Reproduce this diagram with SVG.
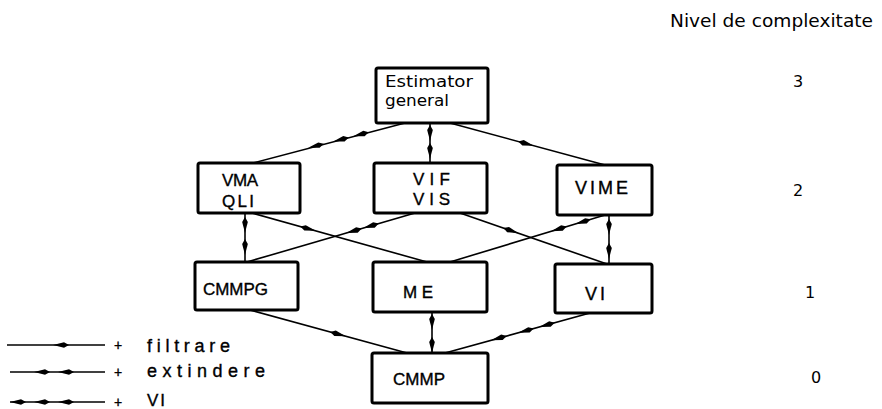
<svg xmlns="http://www.w3.org/2000/svg" xmlns:xlink="http://www.w3.org/1999/xlink" width="882" height="409" viewBox="0 0 882 409">
  <style>
    .box { fill: #fff; stroke: #000; stroke-width: 3; }
    .lbl { font-family: "Liberation Sans", "DejaVu Sans", sans-serif; fill: #000; stroke: #000; stroke-width: 0.35; }
    .hand { font-family: "DejaVu Sans", "Liberation Sans", sans-serif; fill: #000; }
    .wire { stroke: #000; stroke-width: 1.6; fill: none; }
  </style>
  <defs>
    <!-- spindle-shaped arrowhead, tip pointing along +x -->
    <path id="ah" d="M-9,0 L2,-2.8 L7,0 L2,2.8 Z" fill="#000"/>
  </defs>
  <rect width="882" height="409" fill="#fff"/>

  <!-- connectors -->
  <g id="connectors">
    <!-- Estimator general - VMA/QLI (+VI) -->
    <line class="wire" x1="405" y1="123" x2="253" y2="163"/>
    <use xlink:href="#ah" transform="translate(317,145.6) rotate(-14.4)"/>
    <use xlink:href="#ah" transform="translate(342,139.2) rotate(-14.4)"/>
    <use xlink:href="#ah" transform="translate(362,134) rotate(-14.4)"/>
    <!-- Estimator general - VIF/VIS (+extindere) -->
    <line class="wire" x1="430" y1="123" x2="430" y2="163"/>
    <use xlink:href="#ah" transform="translate(430,132) rotate(-90)"/>
    <use xlink:href="#ah" transform="translate(430,150) rotate(-90)"/>
    <!-- Estimator general - VIME (+filtrare) -->
    <line class="wire" x1="450" y1="123" x2="605" y2="165"/>
    <use xlink:href="#ah" transform="translate(525,143.3) rotate(195.2)"/>

    <!-- VMA/QLI - CMMPG -->
    <line class="wire" x1="245" y1="213" x2="245" y2="262"/>
    <use xlink:href="#ah" transform="translate(245,224) rotate(-90)"/>
    <use xlink:href="#ah" transform="translate(245,246) rotate(-90)"/>
    <!-- VMA/QLI - ME (+filtrare) -->
    <line class="wire" x1="252" y1="213" x2="427" y2="262"/>
    <use xlink:href="#ah" transform="translate(307,228.4) rotate(195.6)"/>
    <!-- CMMPG - VIF/VIS (+extindere) -->
    <line class="wire" x1="247" y1="262" x2="415" y2="213"/>
    <use xlink:href="#ah" transform="translate(355,230.5) rotate(-16.3)"/>
    <use xlink:href="#ah" transform="translate(372,225.5) rotate(-16.3)"/>
    <!-- VIF/VIS - VI (+filtrare) -->
    <line class="wire" x1="460" y1="213" x2="607" y2="264"/>
    <use xlink:href="#ah" transform="translate(510,230.3) rotate(199.1)"/>
    <!-- ME - VIME (+extindere) -->
    <line class="wire" x1="450" y1="262" x2="605" y2="215"/>
    <use xlink:href="#ah" transform="translate(560,228.6) rotate(-16.9)"/>
    <use xlink:href="#ah" transform="translate(584,221.4) rotate(-16.9)"/>
    <!-- VIME - VI -->
    <line class="wire" x1="609" y1="215" x2="609" y2="264"/>
    <use xlink:href="#ah" transform="translate(609,226) rotate(-90)"/>
    <use xlink:href="#ah" transform="translate(609,250) rotate(-90)"/>

    <!-- CMMPG - CMMP (+filtrare) -->
    <line class="wire" x1="250" y1="310" x2="407" y2="353"/>
    <use xlink:href="#ah" transform="translate(337,333.8) rotate(195.3)"/>
    <!-- ME - CMMP (+extindere) -->
    <line class="wire" x1="432" y1="312" x2="432" y2="353"/>
    <use xlink:href="#ah" transform="translate(432,321) rotate(-90)"/>
    <use xlink:href="#ah" transform="translate(432,344) rotate(-90)"/>
    <!-- VI - CMMP (+VI) -->
    <line class="wire" x1="445" y1="353" x2="590" y2="313"/>
    <use xlink:href="#ah" transform="translate(500,337.8) rotate(-15.4)"/>
    <use xlink:href="#ah" transform="translate(527,330.4) rotate(-15.4)"/>
    <use xlink:href="#ah" transform="translate(548,324.6) rotate(-15.4)"/>
  </g>

  <!-- level 3 -->
  <g id="estimator">
    <rect class="box" x="376" y="68" width="112" height="55" rx="2"/>
    <text class="hand" x="385" y="87" font-size="16" textLength="88" lengthAdjust="spacingAndGlyphs">Estimator</text>
    <text class="hand" x="385" y="106" font-size="16" textLength="64" lengthAdjust="spacingAndGlyphs">general</text>
  </g>

  <!-- level 2 -->
  <g id="vma-qli">
    <rect class="box" x="198" y="163" width="102" height="50" rx="2"/>
    <text class="lbl" x="222" y="186" font-size="17" textLength="36">VMA</text>
    <text class="lbl" x="222" y="207" font-size="17" textLength="32">QLI</text>
  </g>
  <g id="vif-vis">
    <rect class="box" x="374" y="163" width="113" height="50" rx="2"/>
    <text class="lbl" x="413" y="185" font-size="17" textLength="37">VIF</text>
    <text class="lbl" x="413" y="205" font-size="17" textLength="37">VIS</text>
  </g>
  <g id="vime">
    <rect class="box" x="557" y="165" width="95" height="50" rx="2"/>
    <text class="lbl" x="575" y="194" font-size="18" textLength="53">VIME</text>
  </g>

  <!-- level 1 -->
  <g id="cmmpg">
    <rect class="box" x="195" y="262" width="103" height="48" rx="2"/>
    <text class="lbl" x="203" y="295" font-size="17" textLength="65">CMMPG</text>
  </g>
  <g id="me">
    <rect class="box" x="373" y="262" width="114" height="50" rx="2"/>
    <text class="lbl" x="403" y="298" font-size="17" textLength="30">ME</text>
  </g>
  <g id="vi">
    <rect class="box" x="555" y="264" width="97" height="49" rx="2"/>
    <text class="lbl" x="585" y="300" font-size="18" textLength="20">VI</text>
  </g>

  <!-- level 0 -->
  <g id="cmmp">
    <rect class="box" x="372" y="353" width="116" height="50" rx="2"/>
    <text class="lbl" x="393" y="385" font-size="17" textLength="52">CMMP</text>
  </g>

  <!-- legend -->
  <g id="legend">
    <line class="wire" x1="7" y1="345" x2="105" y2="345"/>
    <use xlink:href="#ah" transform="translate(62,345)"/>
    <text class="lbl" x="114" y="350" font-size="14">+</text>
    <text class="lbl" x="147" y="352" font-size="18" textLength="83">filtrare</text>

    <line class="wire" x1="10" y1="372" x2="105" y2="372"/>
    <use xlink:href="#ah" transform="translate(43,372)"/>
    <use xlink:href="#ah" transform="translate(67,372)"/>
    <text class="lbl" x="114" y="377" font-size="14">+</text>
    <text class="lbl" x="147" y="377" font-size="18" textLength="118">extindere</text>

    <line class="wire" x1="10" y1="402" x2="105" y2="402"/>
    <use xlink:href="#ah" transform="translate(19,402)"/>
    <use xlink:href="#ah" transform="translate(43,402)"/>
    <use xlink:href="#ah" transform="translate(67,402)"/>
    <text class="lbl" x="114" y="407" font-size="14">+</text>
    <text class="lbl" x="147" y="406" font-size="17" textLength="18">VI</text>
  </g>

  <!-- complexity scale -->
  <g id="scale">
    <text class="hand" x="670" y="27" font-size="17" textLength="203" lengthAdjust="spacingAndGlyphs">Nivel de complexitate</text>
    <text class="hand" x="793" y="87" font-size="16">3</text>
    <text class="hand" x="793" y="196" font-size="16">2</text>
    <text class="hand" x="805" y="298" font-size="16">1</text>
    <text class="hand" x="811" y="383" font-size="16">0</text>
  </g>
</svg>
